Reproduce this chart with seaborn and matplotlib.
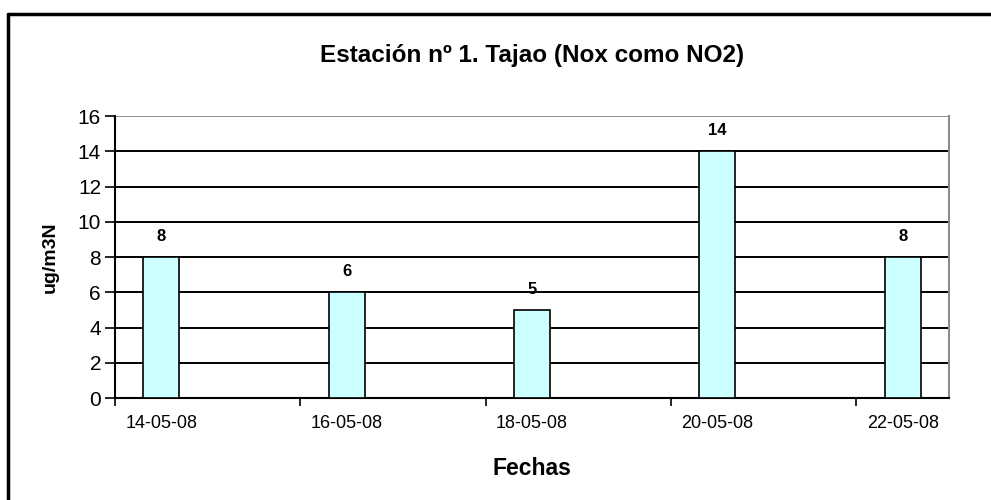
import matplotlib
matplotlib.use("Agg")
import matplotlib.pyplot as plt
import seaborn as sns
import pandas as pd
from matplotlib.lines import Line2D

fechas = ["14-05-08", "16-05-08", "18-05-08", "20-05-08", "22-05-08"]
valores = [8, 6, 5, 14, 8]
yticks = [0, 2, 4, 6, 8, 10, 12, 14, 16]

sns.set_theme(style="white")
plt.rcParams['font.family'] = ['Liberation Sans', 'DejaVu Sans']
plt.rcParams.update({"text.color": "black", "axes.labelcolor": "black",
                     "xtick.color": "black", "ytick.color": "black"})

dates = pd.to_datetime(fechas, format="%d-%m-%y")
dia = (dates - dates[0]).days
df = pd.DataFrame({"dia": dia, "valor": valores, "fecha": fechas})

fig = plt.figure(figsize=(9.91, 5.0), dpi=100)
ax = fig.add_axes([115/991, 1-398/500, (949-115)/991, (398-116)/500])

sns.barplot(data=df, x="dia", y="valor", native_scale=True, width=0.195,
            color="#CCFFFF", edgecolor="black", linewidth=1.2, saturation=1,
            ax=ax, zorder=3)

ax.set_xlim(-0.5, dia.max() + 0.5)
ax.set_ylim(0, 16)
ax.set_yticks(yticks)
ax.set_yticklabels([str(v) for v in yticks], fontsize=15)
for y in yticks[1:-1]:
    ax.axhline(y, color="black", lw=1.4, zorder=1)
ax.axhline(16, color="#8c8c8c", lw=1.4, zorder=1)

# major ticks between categories, labels at bar centers
ax.set_xticks([d - 0.5 for d in dia])
ax.set_xticklabels([])
ax.set_xticks(list(dia), minor=True)
ax.set_xticklabels(fechas, minor=True, fontsize=13)
ax.tick_params(axis="x", which="major", length=6, width=1.2, color="black", direction="out", bottom=True)
ax.tick_params(axis="x", which="minor", length=0, pad=12, labelcolor="black")
ax.tick_params(axis="y", length=7, width=1.2, color="black", direction="out", left=True, pad=3, labelcolor="black")

for s in ["left", "bottom"]:
    ax.spines[s].set_color("black")
    ax.spines[s].set_linewidth(1.5)
ax.spines["right"].set_color("#8c8c8c")
ax.spines["right"].set_linewidth(1.5)
ax.spines["top"].set_visible(False)

for d, v in zip(dia, valores):
    ax.annotate(str(v), (d, v), xytext=(0, 15), textcoords="offset points",
                ha="center", va="center", fontsize=12, fontweight="bold", color="black")

ax.set_xlabel("Fechas", fontsize=16.5, fontweight="bold", labelpad=18, color="black")
ax.set_ylabel("ug/m3N", fontsize=14, fontweight="bold", labelpad=14, color="black")
ax.set_title("Estación nº 1. Tajao (Nox como NO2)", fontsize=17.5, fontweight="bold", pad=39, color="black")

# outer border (left and top)
fig.add_artist(Line2D([8/991, 8/991], [0, 1-14/500], transform=fig.transFigure, color="black", lw=2.5))
fig.add_artist(Line2D([8/991, 1], [1-14/500, 1-14/500], transform=fig.transFigure, color="black", lw=2.5))

fig.savefig("out.png", dpi=100)
